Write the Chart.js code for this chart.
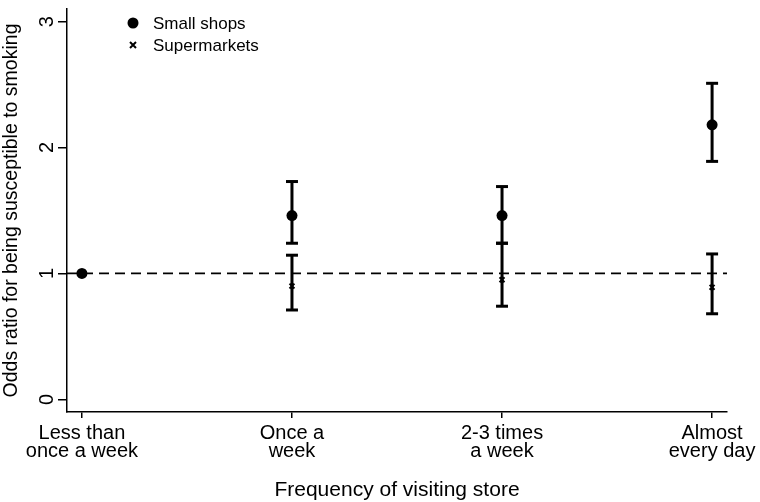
<!DOCTYPE html>
<html>
<head>
<meta charset="utf-8">
<script src="https://cdn.jsdelivr.net/npm/chart.js@4/dist/chart.umd.min.js"></script>
<style>
  body { margin: 0; background: #fff; }
  #wrap { width: 760px; height: 502px; position: relative; }
</style>
</head>
<body>
<div id="wrap"><canvas id="oddsChart"></canvas></div>
<script>
// categories along the x axis
const categories = [
  ['Less than', 'once a week'],
  ['Once a', 'week'],
  ['2-3 times', 'a week'],
  ['Almost', 'every day']
];
const yTicks = [0, 1, 2, 3];

// small shops: odds ratio and 95% CI
const shopOR   = [1, 1.46, 1.46, 2.18];
const shopLow  = [null, 1.24, 1.24, 1.89];
const shopHigh = [null, 1.73, 1.69, 2.51];

// supermarkets
const superOR   = [1, 0.90, 0.95, 0.89];
const superLow  = [null, 0.71, 0.74, 0.68];
const superHigh = [null, 1.145, 1.24, 1.155];

const refValue = 1;

function points(vals) {
  return vals.map((v, i) => ({ x: i, y: v }));
}

function errorBars(low, high) {
  let out = [];
  for (let i = 0; i < low.length; i++) {
    if (low[i] == null) continue;
    out.push({ x: i, y: low[i] }, { x: i, y: high[i] }, { x: i, y: null });
  }
  return out;
}

const xMin = -0.071;
const xMax = categories.length - 1 + 0.071;

// legend drawn inside the plot, like the original
const insideLegend = {
  id: 'insideLegend',
  afterDatasetsDraw(chart) {
    const ctx = chart.ctx;
    const area = chart.chartArea;
    const x = area.left + 66;
    ctx.save();
    ctx.fillStyle = '#000';
    ctx.strokeStyle = '#000';
    ctx.beginPath();
    ctx.arc(x, 23, 5.5, 0, Math.PI * 2);
    ctx.fill();
    ctx.lineWidth = 2;
    ctx.beginPath();
    ctx.moveTo(x - 3, 42); ctx.lineTo(x + 3, 48);
    ctx.moveTo(x + 3, 42); ctx.lineTo(x - 3, 48);
    ctx.stroke();
    ctx.font = '17px "Liberation Sans", Arial, sans-serif';
    ctx.textBaseline = 'middle';
    ctx.fillText(chart.data.datasets[0].label, x + 20, 24);
    ctx.fillText(chart.data.datasets[1].label, x + 20, 46);
    ctx.restore();
  }
};

const ctx = document.getElementById('oddsChart');
const myChart = new Chart(ctx, {
  type: 'scatter',
  data: {
    datasets: [
      {
        label: 'Small shops',
        data: points(shopOR),
        pointStyle: 'circle',
        pointRadius: 5.5,
        backgroundColor: '#000',
        borderColor: '#000',
        borderWidth: 0
      },
      {
        label: 'Supermarkets',
        data: points(superOR),
        pointStyle: 'crossRot',
        pointRadius: 3.5,
        borderColor: '#000',
        borderWidth: 2
      },
      {
        label: 'shopCI',
        type: 'line',
        data: errorBars(shopLow, shopHigh),
        borderColor: '#000',
        borderWidth: 3,
        pointStyle: 'line',
        pointRadius: 6,
        pointBorderWidth: 3,
        pointBorderColor: '#000',
        spanGaps: false
      },
      {
        label: 'superCI',
        type: 'line',
        data: errorBars(superLow, superHigh),
        borderColor: '#000',
        borderWidth: 3,
        pointStyle: 'line',
        pointRadius: 6,
        pointBorderWidth: 3,
        pointBorderColor: '#000',
        spanGaps: false
      },
      {
        label: 'ref',
        type: 'line',
        data: [{ x: xMin, y: refValue }, { x: xMax, y: refValue }],
        borderColor: '#000',
        borderWidth: 1.8,
        borderDash: [10, 6],
        pointRadius: 0
      }
    ]
  },
  options: {
    responsive: true,
    maintainAspectRatio: false,
    animation: false,
    layout: { padding: { left: 0, right: 33, top: 0, bottom: 0 } },
    plugins: {
      legend: { display: false },
      tooltip: { enabled: false }
    },
    scales: {
      x: {
        type: 'linear',
        min: xMin,
        max: xMax,
        afterBuildTicks: (scale) => {
          scale.ticks = categories.map((c, i) => ({ value: i }));
        },
        afterFit: (scale) => {
          scale.height = 90;
          scale.paddingLeft = 0;
          scale.paddingRight = 0;
        },
        border: { display: true, color: '#000', width: 1.5 },
        grid: { display: true, drawOnChartArea: false, drawTicks: true, tickLength: 6, color: '#000', lineWidth: 1.5 },
        ticks: {
          color: '#000',
          padding: 6,
          maxRotation: 0,
          autoSkip: false,
          font: { family: '"Liberation Sans", Arial, sans-serif', size: 20, lineHeight: 0.92 },
          callback: (v) => categories[v]
        },
        title: {
          display: true,
          text: 'Frequency of visiting store',
          color: '#000',
          padding: { top: 0, bottom: 0 },
          font: { family: '"Liberation Sans", Arial, sans-serif', size: 21, lineHeight: 1.1 }
        }
      },
      y: {
        min: -0.1,
        max: 3.1,
        afterBuildTicks: (scale) => {
          scale.ticks = yTicks.map((v) => ({ value: v }));
        },
        afterFit: (scale) => {
          scale.width = 67;
          scale.paddingTop = 0;
          scale.paddingBottom = 0;
        },
        border: { display: true, color: '#000', width: 1.5 },
        grid: { display: true, drawOnChartArea: false, drawTicks: true, tickLength: 9, color: '#000', lineWidth: 1.5 },
        ticks: {
          color: '#000',
          padding: 5,
          minRotation: 90,
          maxRotation: 90,
          crossAlign: 'center',
          font: { family: '"Liberation Sans", Arial, sans-serif', size: 20 }
        },
        title: {
          display: true,
          text: 'Odds ratio for being susceptible to smoking',
          color: '#000',
          padding: { top: 0, bottom: 0 },
          font: { family: '"Liberation Sans", Arial, sans-serif', size: 19.5 }
        }
      }
    }
  },
  plugins: [insideLegend]
});
</script>
</body>
</html>
